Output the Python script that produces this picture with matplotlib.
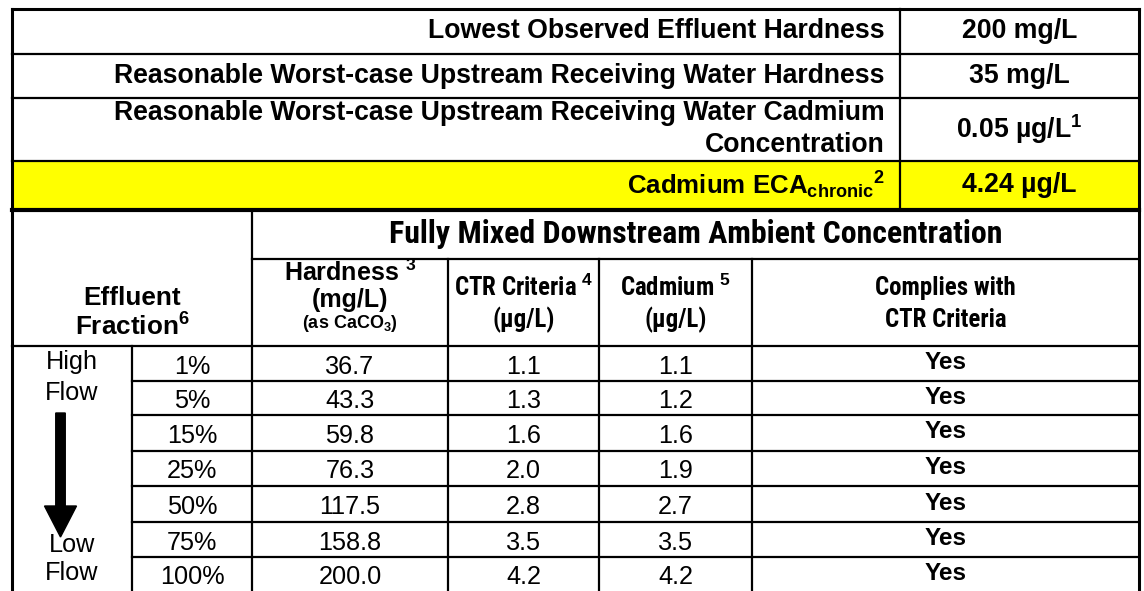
import matplotlib
matplotlib.use('Agg')
import matplotlib.pyplot as plt
from matplotlib import font_manager
from matplotlib.font_manager import FontProperties
from matplotlib.patches import Rectangle, FancyArrow

plt.rcParams['font.family'] = ['Liberation Sans', 'DejaVu Sans']
plt.rcParams['mathtext.fontset'] = 'custom'
plt.rcParams['mathtext.rm'] = 'Liberation Sans:bold'
plt.rcParams['mathtext.it'] = 'Liberation Sans:bold'
plt.rcParams['mathtext.bf'] = 'Liberation Sans:bold'


def _weight(w):
    if isinstance(w, (int, float)):
        return w
    return {'bold': 700, 'heavy': 800, 'black': 900, 'semibold': 600,
            'demibold': 600, 'extra bold': 800, 'ultrabold': 800}.get(str(w).lower(), 400)


def find_narrow_bold():
    best = None
    for f in font_manager.fontManager.ttflist:
        nm = f.name
        if 'DejaVu' in nm or 'Extra' in nm or 'Ultra' in nm or 'Semi' in nm:
            continue
        if not (('Narrow' in nm) or ('Condensed' in nm)):
            continue
        if _weight(f.weight) != 700 or f.style != 'normal':
            continue
        base = f.fname.lower()
        if 'extra' in base or 'semi' in base or 'ultra' in base or 'black' in base:
            continue
        if 'Liberation' in nm or 'Arial' in nm:
            score = 0
        elif 'Roboto' in nm:
            score = 1
        elif 'Open Sans' in nm:
            score = 2
        else:
            score = 3
        if best is None or score < best[0]:
            best = (score, f.fname)
    return best[1] if best else None


NARROW_FILE = find_narrow_bold()

# ---------------- data ----------------
summary_labels = [
    'Lowest Observed Effluent Hardness',
    'Reasonable Worst-case Upstream Receiving Water Hardness',
    'Reasonable Worst-case Upstream Receiving Water Cadmium\nConcentration',
    r'Cadmium ECA$_{\mathrm{chronic}}$$^{\mathrm{2}}$',
]
summary_values = ['200 mg/L', '35 mg/L', r'0.05 µg/L$^{\mathrm{1}}$', '4.24 µg/L']

group_header = 'Fully Mixed Downstream Ambient Concentration'
col_headers = [r'CTR Criteria $^{\mathrm{4}}$' + '\n(µg/L)',
               r'Cadmium $^{\mathrm{5}}$' + '\n(µg/L)',
               'Complies with\nCTR Criteria']
fractions = ['1%', '5%', '15%', '25%', '50%', '75%', '100%']
hardness = [36.7, 43.3, 59.8, 76.3, 117.5, 158.8, 200.0]
ctr_criteria = [1.1, 1.3, 1.6, 2.0, 2.8, 3.5, 4.2]
cadmium = [1.1, 1.2, 1.6, 1.9, 2.7, 3.5, 4.2]
complies = ['Yes', 'Yes', 'Yes', 'Yes', 'Yes', 'Yes', 'Yes']

# ---------------- layout (pixels) ----------------
W, H = 1144, 591
fig = plt.figure(figsize=(W / 100, H / 100), dpi=100)
ax = fig.add_axes([0, 0, 1, 1])
ax.set_xlim(0, W)
ax.set_ylim(H, 0)
ax.axis('off')

L, R = 12, 1139
top_rows = [9, 54, 98, 161, 210]
div_x = 900
head_mid = 259
head_bot = 346
row_edges = [346, 381, 415, 451, 486, 522, 557, 591]
col_x = [L, 132, 252, 448, 599, 752, R]

lw_out = 2.2
lw_in = 1.6
k = 'black'

# yellow row
ax.add_patch(Rectangle((L, top_rows[3]), R - L, top_rows[4] - top_rows[3],
                       facecolor='#ffff00', edgecolor='none', zorder=0))

# horizontal lines
ax.plot([L, R], [top_rows[0]] * 2, color=k, lw=lw_out, solid_capstyle='projecting')
for y in top_rows[1:4]:
    ax.plot([L, R], [y, y], color=k, lw=lw_in)
ax.plot([L, R], [top_rows[4]] * 2, color=k, lw=3.0)
ax.plot([col_x[2], R], [head_mid] * 2, color=k, lw=lw_in)
ax.plot([L, R], [head_bot] * 2, color=k, lw=lw_in)
for y in row_edges[1:-1]:
    ax.plot([col_x[1], R], [y, y], color=k, lw=lw_in)

# vertical lines
ax.plot([L, L], [top_rows[0], H], color=k, lw=lw_out, solid_capstyle='projecting')
ax.plot([R, R], [top_rows[0], H], color=k, lw=lw_out, solid_capstyle='projecting')
ax.plot([div_x, div_x], [top_rows[0], top_rows[4]], color=k, lw=lw_in)
ax.plot([col_x[2], col_x[2]], [top_rows[4], H], color=k, lw=lw_in)
ax.plot([col_x[1], col_x[1]], [head_bot, H], color=k, lw=lw_in)
for x in col_x[3:6]:
    ax.plot([x, x], [head_mid, H], color=k, lw=lw_in)

# ---------------- summary text ----------------
fs_top = 19.2
label_right = 885
val_x = (div_x + R) / 2
for i, (lab, val) in enumerate(zip(summary_labels, summary_values)):
    yc = (top_rows[i] + top_rows[i + 1]) / 2
    if '\n' in lab:
        first, second = lab.split('\n')
        ax.text(label_right, yc - 16, first, ha='right', va='center',
                fontsize=fs_top, fontweight='bold')
        ax.text(label_right, yc + 16, second, ha='right', va='center',
                fontsize=fs_top, fontweight='bold')
    else:
        ax.text(label_right, yc, lab, ha='right', va='center',
                fontsize=fs_top if i < 3 else 18.6, fontweight='bold')
    ax.text(val_x, yc, val, ha='center', va='center',
            fontsize=fs_top, fontweight='bold')

# ---------------- headers ----------------
ax.text((col_x[0] + col_x[2]) / 2, 298, 'Effluent', ha='center', va='center',
        fontsize=18.8, fontweight='bold')
ax.text((col_x[0] + col_x[2]) / 2, 327, r'Fraction$^{\mathrm{6}}$', ha='center',
        va='center', fontsize=18.8, fontweight='bold')

renderer = fig.canvas.get_renderer()


def fitted_size(s, target_w):
    """Font size of the condensed face that gives the reference width."""
    fp = FontProperties(fname=NARROW_FILE, size=20)
    t = ax.text(0, 0, s, fontproperties=fp)
    w = t.get_window_extent(renderer).width
    t.remove()
    return 20 * target_w / w


if NARROW_FILE:
    group_props = dict(fontproperties=FontProperties(
        fname=NARROW_FILE, size=fitted_size(group_header, 614)))
    head_props = dict(fontproperties=FontProperties(
        fname=NARROW_FILE, size=fitted_size('Complies with', 140)))
else:
    group_props = dict(fontsize=19, fontweight='bold')
    head_props = dict(fontsize=16, fontweight='bold')

ax.text((col_x[2] + R) / 2, 234, group_header, ha='center', va='center', **group_props)

hx = (col_x[2] + col_x[3]) / 2
ax.text(hx, 273, r'Hardness $^{\mathrm{3}}$', ha='center', va='center',
        fontsize=18, fontweight='bold')
ax.text(hx, 300, '(mg/L)', ha='center', va='center', fontsize=18, fontweight='bold')
ax.text(hx, 324, r'(as CaCO$_{\mathrm{3}}$)', ha='center', va='center',
        fontsize=13, fontweight='bold')

for j, hdr in enumerate(col_headers):
    cx = (col_x[3 + j] + col_x[4 + j]) / 2
    first, second = hdr.split('\n')
    ax.text(cx, 288, first, ha='center', va='center', **head_props)
    ax.text(cx, 320, second, ha='center', va='center', **head_props)

# ---------------- data rows ----------------
fs_d = 18.2
for i in range(len(fractions)):
    yc = (row_edges[i] + row_edges[i + 1]) / 2
    ax.text((col_x[1] + col_x[2]) / 2, yc + 3, fractions[i], ha='center', va='center',
            fontsize=fs_d)
    ax.text((col_x[2] + col_x[3]) / 2, yc + 3, f'{hardness[i]:.1f}', ha='center',
            va='center', fontsize=fs_d)
    ax.text((col_x[3] + col_x[4]) / 2, yc + 3, f'{ctr_criteria[i]:.1f}', ha='center',
            va='center', fontsize=fs_d)
    ax.text((col_x[4] + col_x[5]) / 2, yc + 3, f'{cadmium[i]:.1f}', ha='center',
            va='center', fontsize=fs_d)
    ax.text((col_x[5] + col_x[6]) / 2, yc - 1, complies[i], ha='center', va='center',
            fontsize=17.5, fontweight='bold')

# flow labels and arrow
fx = 72
ax.text(fx, 362, 'High', ha='center', va='center', fontsize=fs_d)
ax.text(fx, 393, 'Flow', ha='center', va='center', fontsize=fs_d)
ax.text(fx, 545, 'Low', ha='center', va='center', fontsize=fs_d)
ax.text(fx, 573, 'Flow', ha='center', va='center', fontsize=fs_d)
ax.add_patch(FancyArrow(60.5, 413, 0, 124, width=9.5, head_width=32, head_length=31,
                        length_includes_head=True, color='black', zorder=3))

fig.savefig('out.png', dpi=100)
